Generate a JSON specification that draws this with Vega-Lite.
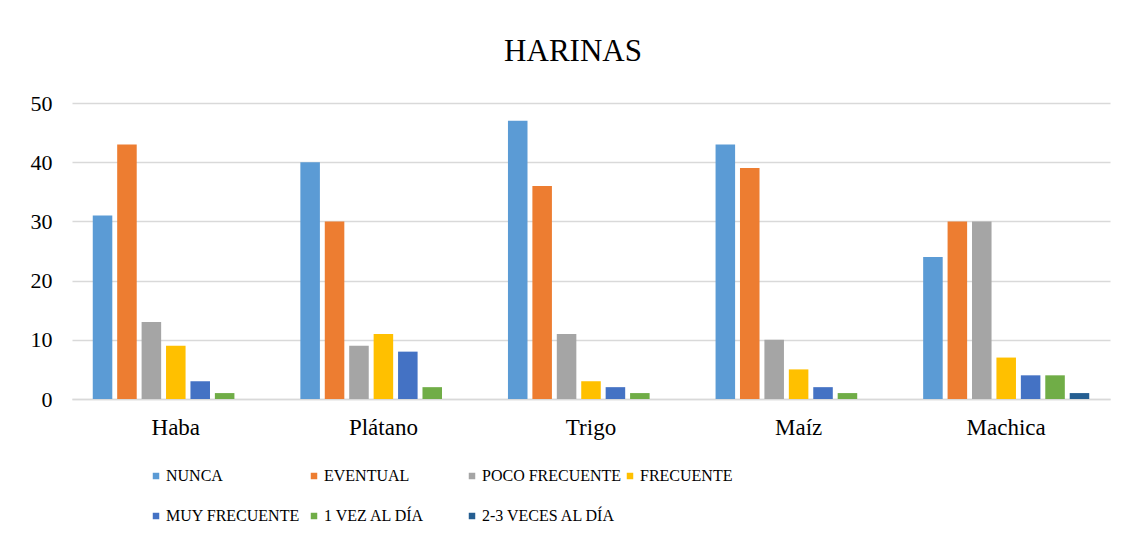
{
  "$schema": "https://vega.github.io/schema/vega-lite/v6.json",
  "width": 1038,
  "height": 296,
  "autosize": {"type": "none"},
  "padding": {"left": 72, "top": 103, "right": 18, "bottom": 141},
  "background": "white",
  "title": {"text": "HARINAS", "font": "Liberation Serif", "fontSize": 31, "fontWeight": "normal", "color": "#000000", "anchor": "middle", "dx": -18, "offset": 24},
  "data": {"values": [
    {"cat": "Haba", "serie": "NUNCA", "value": 31},
    {"cat": "Haba", "serie": "EVENTUAL", "value": 43},
    {"cat": "Haba", "serie": "POCO FRECUENTE", "value": 13},
    {"cat": "Haba", "serie": "FRECUENTE", "value": 9},
    {"cat": "Haba", "serie": "MUY FRECUENTE", "value": 3},
    {"cat": "Haba", "serie": "1 VEZ AL DÍA", "value": 1},
    {"cat": "Haba", "serie": "2-3 VECES AL DÍA", "value": 0},
    {"cat": "Plátano", "serie": "NUNCA", "value": 40},
    {"cat": "Plátano", "serie": "EVENTUAL", "value": 30},
    {"cat": "Plátano", "serie": "POCO FRECUENTE", "value": 9},
    {"cat": "Plátano", "serie": "FRECUENTE", "value": 11},
    {"cat": "Plátano", "serie": "MUY FRECUENTE", "value": 8},
    {"cat": "Plátano", "serie": "1 VEZ AL DÍA", "value": 2},
    {"cat": "Plátano", "serie": "2-3 VECES AL DÍA", "value": 0},
    {"cat": "Trigo", "serie": "NUNCA", "value": 47},
    {"cat": "Trigo", "serie": "EVENTUAL", "value": 36},
    {"cat": "Trigo", "serie": "POCO FRECUENTE", "value": 11},
    {"cat": "Trigo", "serie": "FRECUENTE", "value": 3},
    {"cat": "Trigo", "serie": "MUY FRECUENTE", "value": 2},
    {"cat": "Trigo", "serie": "1 VEZ AL DÍA", "value": 1},
    {"cat": "Trigo", "serie": "2-3 VECES AL DÍA", "value": 0},
    {"cat": "Maíz", "serie": "NUNCA", "value": 43},
    {"cat": "Maíz", "serie": "EVENTUAL", "value": 39},
    {"cat": "Maíz", "serie": "POCO FRECUENTE", "value": 10},
    {"cat": "Maíz", "serie": "FRECUENTE", "value": 5},
    {"cat": "Maíz", "serie": "MUY FRECUENTE", "value": 2},
    {"cat": "Maíz", "serie": "1 VEZ AL DÍA", "value": 1},
    {"cat": "Maíz", "serie": "2-3 VECES AL DÍA", "value": 0},
    {"cat": "Machica", "serie": "NUNCA", "value": 24},
    {"cat": "Machica", "serie": "EVENTUAL", "value": 30},
    {"cat": "Machica", "serie": "POCO FRECUENTE", "value": 30},
    {"cat": "Machica", "serie": "FRECUENTE", "value": 7},
    {"cat": "Machica", "serie": "MUY FRECUENTE", "value": 4},
    {"cat": "Machica", "serie": "1 VEZ AL DÍA", "value": 4},
    {"cat": "Machica", "serie": "2-3 VECES AL DÍA", "value": 1}
  ]},
  "mark": {"type": "bar"},
  "encoding": {
    "x": {
      "field": "cat", "type": "nominal",
      "sort": ["Haba", "Plátano", "Trigo", "Maíz", "Machica"],
      "scale": {"paddingInner": 0.2, "paddingOuter": 0.1},
      "axis": {"title": null, "labelAngle": 0, "labelFont": "Liberation Serif", "labelFontSize": 23, "labelColor": "#000000", "labelPadding": 17, "ticks": false, "domainColor": "#D9D9D9", "domainWidth": 1.5, "grid": false}
    },
    "xOffset": {
      "field": "serie", "type": "nominal",
      "sort": ["NUNCA", "EVENTUAL", "POCO FRECUENTE", "FRECUENTE", "MUY FRECUENTE", "1 VEZ AL DÍA", "2-3 VECES AL DÍA"],
      "scale": {"paddingInner": 0.2, "paddingOuter": 0}
    },
    "y": {
      "field": "value", "type": "quantitative",
      "scale": {"domain": [0, 50]},
      "axis": {"title": null, "values": [0, 10, 20, 30, 40, 50], "labelFont": "Liberation Serif", "labelFontSize": 22, "labelColor": "#000000", "labelPadding": 20, "ticks": false, "domain": false, "gridColor": "#D9D9D9", "gridWidth": 1.5}
    },
    "color": {
      "field": "serie", "type": "nominal",
      "sort": ["NUNCA", "EVENTUAL", "POCO FRECUENTE", "FRECUENTE", "MUY FRECUENTE", "1 VEZ AL DÍA", "2-3 VECES AL DÍA"],
      "scale": {
        "domain": ["NUNCA", "EVENTUAL", "POCO FRECUENTE", "FRECUENTE", "MUY FRECUENTE", "1 VEZ AL DÍA", "2-3 VECES AL DÍA"],
        "range": ["#5B9BD5", "#ED7D31", "#A5A5A5", "#FFC000", "#4472C4", "#70AD47", "#255E91"]
      },
      "legend": {"title": null, "orient": "none", "legendX": 76, "legendY": 365, "direction": "horizontal", "columns": 4, "gridAlign": "all", "columnPadding": -6, "rowPadding": 24, "symbolType": "square", "symbolSize": 42, "symbolStrokeWidth": 0, "labelFont": "Liberation Serif", "labelFontSize": 16, "labelColor": "#000000", "labelOffset": 2, "padding": 0, "labelLimit": 300}
    }
  },
  "config": {"view": {"stroke": null}}
}
